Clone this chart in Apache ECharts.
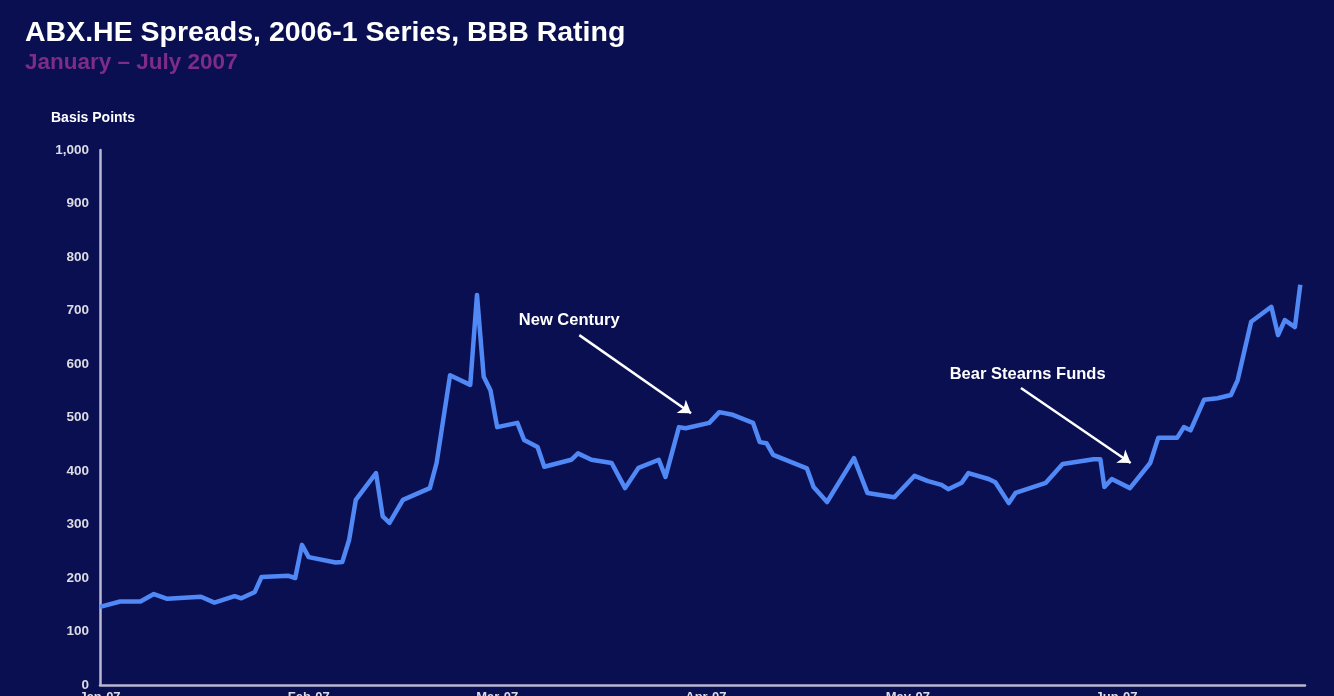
<!DOCTYPE html>
<html><head><meta charset="utf-8">
<script src="https://cdn.jsdelivr.net/npm/echarts@6/dist/echarts.min.js"></script>
<style>html,body{margin:0;padding:0;background:#0a0f52;}#c{width:1334px;height:696px;}</style>
</head><body><div id="c"></div>
<script>
// Day offsets from 1 Jan 2007 (calendar days) and ABX.HE BBB spreads (bp)
const days = [0,3,6,8,10,15,17,20,21,23,24,28,29,30,31,35,36,37,38,41,42,43,45,49,50,52,55,56,57,58,59,62,63,65,66,70,71,73,76,78,80,83,84,86,87,90.5,92,94,97,98,99,100,105,106,108,112,114,118,121,123,125,126,128,129,132,133,135,136,140.5,143,147.6,148.6,149.2,150.3,153,156,157.2,160,161,162,164,166,168,169,171,174,175,176,177.5,178.3];
const values = [146,156,156,170,161,165,154,166,162,174,202,204,200,262,239,229,230,271,346,396,315,303,346,368,415,579,561,729,576,551,482,490,458,445,408,421,433,421,415,368,406,421,389,482,480,490,510,505,490,454,452,430,405,370,342,424,359,351,391,381,374,366,378,396,385,379,340,359,378,413,422,422,370,385,368,415,462,462,482,476,533,536,542,570,679,707,654,682,669,748];
const monthTicks = [0,31,59,90,120,151];
const monthLabels = ['Jan-07','Feb-07','Mar-07','Apr-07','May-07','Jun-07'];

const FONT = "'Liberation Sans', Arial, Helvetica, sans-serif";
const chart = echarts.init(document.getElementById('c'));
chart.setOption({
  backgroundColor: '#0a0f52',
  animation: false,
  title: {
    text: 'ABX.HE Spreads, 2006-1 Series, BBB Rating',
    subtext: 'January \u2013 July 2007',
    left: 20, top: 14, itemGap: 3,
    textStyle: {color: '#ffffff', fontSize: 28.5, fontWeight: 'bold', fontFamily: FONT},
    subtextStyle: {color: '#7d2c88', fontSize: 22.5, fontWeight: 'bold', fontFamily: FONT}
  },
  graphic: [{
    type: 'text', left: 51, top: 111,
    style: {text: 'Basis Points', fill: '#ffffff', font: 'bold 14px ' + FONT}
  }],
  grid: {left: 100, right: 29, top: 150, bottom: 11, containLabel: false, outerBoundsMode: 'none'},
  xAxis: {
    type: 'value', min: 0, max: 179,
    splitLine: {show: false},
    axisLine: {show: true, lineStyle: {color: '#b8b8d0', width: 2.5}},
    axisTick: {show: false},
    axisLabel: {
      customValues: monthTicks,
      formatter: v => monthLabels[monthTicks.indexOf(v)] || '',
      color: '#dcdce4', fontSize: 13, fontWeight: 'bold', fontFamily: FONT, margin: 6
    }
  },
  yAxis: {
    type: 'value', min: 0, max: 1000, interval: 100,
    splitLine: {show: false},
    axisLine: {show: true, lineStyle: {color: '#b8b8d0', width: 2.5}},
    axisTick: {show: false},
    axisLabel: {
      formatter: v => v.toLocaleString('en-US'),
      color: '#dcdce4', fontSize: 13.5, fontWeight: 'bold', fontFamily: FONT, margin: 11
    }
  },
  series: [{
    type: 'line',
    data: days.map((d, i) => [d, values[i]]),
    showSymbol: false,
    lineStyle: {color: '#5088f5', width: 4.5, join: 'round'},
    clip: false,
    markLine: {
      silent: true,
      symbol: ['none', 'arrow'], symbolSize: 12,
      lineStyle: {color: '#ffffff', width: 2.5, type: 'solid'},
      label: {show: false},
      emphasis: {disabled: true},
      data: [
        [{coord: [71.2, 654]}, {coord: [87.8, 508]}],
        [{coord: [136.8, 555]}, {coord: [153.1, 415]}]
      ]
    },
    markPoint: {
      silent: true,
      symbol: 'circle', symbolSize: 0,
      label: {show: true, color: '#ffffff', fontSize: 16.5, fontWeight: 'bold', fontFamily: FONT},
      data: [
        {coord: [69.7, 681], value: 'New Century', label: {formatter: 'New Century'}},
        {coord: [137.8, 580], value: 'Bear Stearns Funds', label: {formatter: 'Bear Stearns Funds'}}
      ]
    }
  }]
});
</script></body></html>
